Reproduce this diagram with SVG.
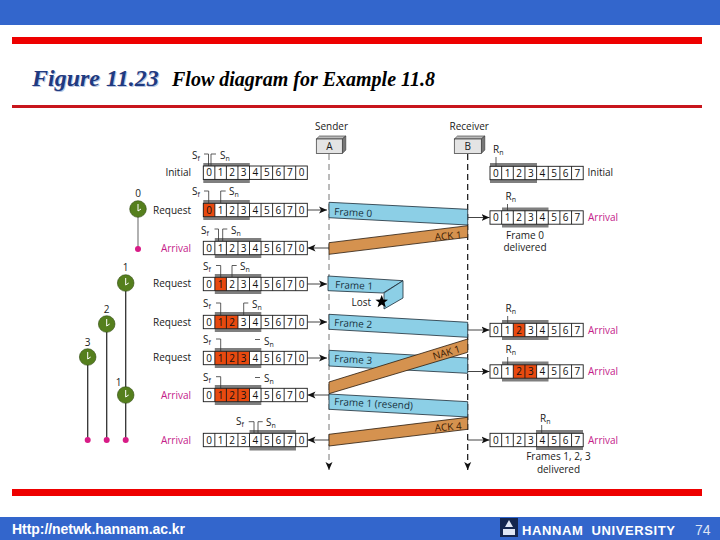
<svg xmlns="http://www.w3.org/2000/svg" xmlns:xlink="http://www.w3.org/1999/xlink" width="720" height="540" viewBox="0 0 720 540">
<style>
text{font-family:"Open Sans","Noto Sans",sans-serif;font-size:10px;fill:#1a1a1a}
.dg{text-anchor:middle;font-size:10px;fill:#111}
.lab{text-anchor:end}
.arr{fill:#c4208a}
.mid{text-anchor:middle}
.win{fill:#7f7f7f}
.bar{fill:#fff}
.hot{fill:#e8490f}
.grid{fill:none;stroke:#1a1a1a;stroke-width:.9}
.br{fill:none;stroke:#333;stroke-width:.8}
.fr{fill:#8ccfe6;stroke:#1c2b36;stroke-width:.8}
.ak{fill:#d5924f;stroke:#2a1a0c;stroke-width:.8}
.ft{font-size:10px;fill:#17323f}
.at{font-size:10px;fill:#3a1c05}
.conn{fill:none;stroke:#444;stroke-width:1}
.stem{stroke:#333;stroke-width:1.3;fill:none}
.dot{fill:#d81b86}
.clk{fill:#557f1d;stroke:#2f4a10;stroke-width:.6}
.hand{fill:none;stroke:#fff;stroke-width:1;}
.fig{font-family:"Liberation Serif",serif;font-weight:bold;font-style:italic;font-size:24px;fill:#1f3a80}
.sub{font-family:"Liberation Serif",serif;font-weight:bold;font-style:italic;font-size:20px;fill:#000}
.foot{font-family:"Liberation Sans",sans-serif;font-weight:bold;fill:#fff}
</style>
<defs>
<marker id="ah" markerWidth="10" markerHeight="8" refX="8" refY="4" orient="auto" markerUnits="userSpaceOnUse"><path d="M0,.5 L8,4 L0,7.5 L2,4 Z" fill="#111"/></marker>
<g id="sg" class="grid"><rect x="203.3" y="-6.7" width="104" height="13.4"/><path d="M214.85-6.7v13.4M226.4-6.7v13.4M237.95-6.7v13.4M249.5-6.7v13.4M261.05-6.7v13.4M272.6-6.7v13.4M284.15-6.7v13.4M295.7-6.7v13.4"/></g>
<g id="rg" class="grid"><rect x="490" y="-6.7" width="93.2" height="13.4"/><path d="M501.65-6.7v13.4M513.3-6.7v13.4M524.95-6.7v13.4M536.6-6.7v13.4M548.25-6.7v13.4M559.9-6.7v13.4M571.55-6.7v13.4"/></g>
</defs>
<rect width="720" height="540" fill="#fff"/>
<g id="header">
<rect width="720" height="25" fill="#3366cc"/>
<rect x="12" y="37" width="690" height="7" fill="#ee0000"/>
<rect x="12" y="105" width="690" height="3" fill="#c8161c"/>
<text x="33" y="87" class="fig" style="fill:#b9c6e2">Figure 11.23</text>
<text x="32" y="86" class="fig">Figure 11.23</text>
<text x="172" y="86" class="sub" textLength="263">Flow diagram for Example 11.8</text>
</g>

<g id="lifelines" fill="none">
<path d="M329 154V470" stroke="#777" stroke-width="1" stroke-dasharray="6 4" marker-end="url(#ah)"/>
<path d="M467.7 154V470" stroke="#111" stroke-width="1.2" stroke-dasharray="6 4" marker-end="url(#ah)"/>
</g>

<g id="connectors">
<path class="conn" d="M307.3 210H327" marker-end="url(#ah)"/>
<path class="conn" d="M329 248H307.5" marker-end="url(#ah)"/>
<path class="conn" d="M307.3 284H327" marker-end="url(#ah)"/>
<path class="conn" d="M307.3 322H327" marker-end="url(#ah)"/>
<path class="conn" d="M307.3 358H327" marker-end="url(#ah)"/>
<path class="conn" d="M329 395H307.5" marker-end="url(#ah)"/>
<path class="conn" d="M329 440H307.5" marker-end="url(#ah)"/>
<path class="conn" d="M467.7 217.5H489.5" marker-end="url(#ah)"/>
<path class="conn" d="M467.7 330H489.5" marker-end="url(#ah)"/>
<path class="conn" d="M467.7 371.5H489.5" marker-end="url(#ah)"/>
<path class="conn" d="M467.7 440H489.5" marker-end="url(#ah)"/>
</g>

<g id="frames">
<polygon class="fr" points="329,202.3 467.7,209.3 467.7,225 329,217.7"/>
<text class="ft" transform="translate(334,215) rotate(2.9)">Frame 0</text>
<polygon class="ak" points="467.7,225.7 467.7,237.3 329,254.3 329,242.7"/>
<text class="at" transform="translate(435,240.5) rotate(-5)">ACK 1</text>
<polygon class="fr" points="328,276 403,280.7 383,293 328,290.7"/>
<polygon class="fr" points="403,280.7 403,298 384,309 384,293"/>
<text class="ft" transform="translate(335,288) rotate(2.5)">Frame 1</text>
<text x="351.5" y="305.5">Lost</text>
<polygon points="381.7,295 383.4,299.6 388,299.7 384.4,302.6 385.8,307.2 381.7,304.6 377.6,307.2 379,302.6 375.4,299.7 380,299.6" fill="#000"/>
<polygon class="fr" points="329,314.3 467.7,322.3 467.7,337.3 329,329.3"/>
<text class="ft" transform="translate(334,326) rotate(3)">Frame 2</text>
<polygon class="fr" points="329,350.3 467.7,358 467.7,373.3 329,366"/>
<text class="ft" transform="translate(334,362) rotate(3)">Frame 3</text>
<polygon class="ak" points="467.7,339 467.7,352.3 329,393.7 329,382"/>
<text class="at" transform="translate(434,360) rotate(-17)">NAK 1</text>
<polygon class="fr" points="329,394 467.7,401.7 467.7,417 329,409.3"/>
<text class="ft" transform="translate(334,405) rotate(3)">Frame 1 (resend)</text>
<polygon class="ak" points="467.7,417.3 467.7,429.3 329,446 329,434.3"/>
<text class="at" transform="translate(435,431.5) rotate(-5)">ACK 4</text>
</g>

<g id="node-a">
<text x="315" y="130">Sender</text>
<polygon points="316.3,139 319.5,136 345.8,136 342.3,139" fill="#bbb" stroke="#333" stroke-width=".6"/>
<polygon points="342.3,139 345.8,136 345.8,150 342.3,153.5" fill="#777" stroke="#333" stroke-width=".6"/>
<rect x="316.3" y="139" width="26" height="14.5" fill="#e4e4e4" stroke="#333" stroke-width=".7"/>
<text class="mid" x="329.3" y="150">A</text>
</g>
<g id="node-b">
<text x="449.5" y="130">Receiver</text>
<polygon points="454.3,139 457.5,136 484.8,136 481.3,139" fill="#bbb" stroke="#333" stroke-width=".6"/>
<polygon points="481.3,139 484.8,136 484.8,150 481.3,153.5" fill="#777" stroke="#333" stroke-width=".6"/>
<rect x="454.3" y="139" width="27" height="14.5" fill="#e4e4e4" stroke="#333" stroke-width=".7"/>
<text class="mid" x="467.7" y="150">B</text>
</g>

<g id="clocks">
<path class="stem" d="M138 209V249" style="stroke:#888"/>
<path class="stem" d="M125.7 283V440M106.7 324V440M87.7 357V440"/>
<circle class="dot" cx="138" cy="249" r="3"/><circle class="dot" cx="125.7" cy="440" r="3"/><circle class="dot" cx="106.7" cy="440" r="3"/><circle class="dot" cx="87.7" cy="440" r="3"/>
<circle class="clk" cx="138" cy="209" r="8.3"/><path class="hand" d="M138 204V211L141 209"/>
<circle class="clk" cx="125.7" cy="283" r="8.3"/><path class="hand" d="M125.7 278V285L128.7 283"/>
<circle class="clk" cx="106.7" cy="324" r="8.3"/><path class="hand" d="M106.7 319V326L109.7 324"/>
<circle class="clk" cx="87.7" cy="357" r="8.3"/><path class="hand" d="M87.7 352V359L90.7 357"/>
<circle class="clk" cx="125.7" cy="395" r="8.3"/><path class="hand" d="M125.7 390V397L128.7 395"/>
<text class="mid" x="138" y="197">0</text>
<text class="mid" x="125.7" y="271">1</text>
<text class="mid" x="106.7" y="313">2</text>
<text class="mid" x="87.7" y="346">3</text>
<text class="mid" x="118.5" y="386">1</text>
</g>

<g id="sender-row-initial">
<rect class="win" x="203.3" y="163" width="46.5" height="20"/><rect class="bar" x="203.3" y="166" width="104" height="13.4"/>
<use xlink:href="#sg" href="#sg" y="172.7"/>
<text class="dg" x="209.1 220.6 232.2 243.7 255.3 266.8 278.4 289.9 301.5" y="176.3">012345670</text>
<text class="lab" x="191" y="176">Initial</text>
<path class="br" d="M204 154H208.5V166M216 154H211V166"/>
<text x="192" y="159">S<tspan font-size="7" dy="2">f</tspan></text><text x="220" y="159">S<tspan font-size="7" dy="2">n</tspan></text>
</g>
<g id="sender-row-request-0">
<rect class="win" x="203.3" y="200" width="46.5" height="20"/><rect class="bar" x="203.3" y="203.3" width="104" height="13.4"/>
<rect class="hot" x="203.3" y="203.3" width="11.55" height="13.4"/>
<use xlink:href="#sg" href="#sg" y="210"/>
<text class="dg" x="209.1 220.6 232.2 243.7 255.3 266.8 278.4 289.9 301.5" y="213.6">012345670</text>
<text class="lab" x="191" y="213.5">Request</text>
<path class="br" d="M204 191H208.7V203M225.7 191H220.7V203"/>
<text x="192" y="195">S<tspan font-size="7" dy="2">f</tspan></text><text x="229" y="195">S<tspan font-size="7" dy="2">n</tspan></text>
</g>
<g id="sender-row-arrival-0">
<rect class="win" x="214.8" y="238" width="46.5" height="20"/><rect class="bar" x="203.3" y="241.3" width="104" height="13.4"/>
<use xlink:href="#sg" href="#sg" y="248"/>
<text class="dg" x="209.1 220.6 232.2 243.7 255.3 266.8 278.4 289.9 301.5" y="251.6">012345670</text>
<text class="lab arr" x="191" y="251.5">Arrival</text>
<path class="br" d="M214.5 229H218.5V241M227.3 229H222.7V241"/>
<text x="201" y="234">S<tspan font-size="7" dy="2">f</tspan></text><text x="231" y="234">S<tspan font-size="7" dy="2">n</tspan></text>
</g>
<g id="sender-row-request-1">
<rect class="win" x="214.8" y="274" width="46.5" height="20"/><rect class="bar" x="203.3" y="277.3" width="104" height="13.4"/>
<rect class="hot" x="214.85" y="277.3" width="11.55" height="13.4"/>
<use xlink:href="#sg" href="#sg" y="284"/>
<text class="dg" x="209.1 220.6 232.2 243.7 255.3 266.8 278.4 289.9 301.5" y="287.6">012345670</text>
<text class="lab" x="191" y="287">Request</text>
<path class="br" d="M216 265.5H220.7V278M236.7 265.5H232V277"/>
<text x="203" y="270">S<tspan font-size="7" dy="2">f</tspan></text><text x="240" y="270">S<tspan font-size="7" dy="2">n</tspan></text>
</g>
<g id="sender-row-request-2">
<rect class="win" x="214.8" y="312" width="46.5" height="20"/><rect class="bar" x="203.3" y="315.3" width="104" height="13.4"/>
<rect class="hot" x="214.85" y="315.3" width="23.1" height="13.4"/>
<use xlink:href="#sg" href="#sg" y="322"/>
<text class="dg" x="209.1 220.6 232.2 243.7 255.3 266.8 278.4 289.9 301.5" y="325.6">012345670</text>
<text class="lab" x="191" y="325.5">Request</text>
<path class="br" d="M216 303H220.7V316M248.3 303H243.7V315"/>
<text x="203" y="307">S<tspan font-size="7" dy="2">f</tspan></text><text x="252" y="308">S<tspan font-size="7" dy="2">n</tspan></text>
</g>
<g id="sender-row-request-3">
<rect class="win" x="214.8" y="348" width="46.5" height="20"/><rect class="bar" x="203.3" y="351.3" width="104" height="13.4"/>
<rect class="hot" x="214.85" y="351.3" width="34.65" height="13.4"/>
<use xlink:href="#sg" href="#sg" y="358"/>
<text class="dg" x="209.1 220.6 232.2 243.7 255.3 266.8 278.4 289.9 301.5" y="361.6">012345670</text>
<text class="lab" x="191" y="360.5">Request</text>
<path class="br" d="M216 339H220.7V352M255 339.5H260"/>
<text x="203" y="343">S<tspan font-size="7" dy="2">f</tspan></text><text x="264" y="345">S<tspan font-size="7" dy="2">n</tspan></text>
</g>
<g id="sender-row-arrival-1">
<rect class="win" x="214.8" y="385" width="46.5" height="20"/><rect class="bar" x="203.3" y="388.3" width="104" height="13.4"/>
<rect class="hot" x="214.85" y="388.3" width="34.65" height="13.4"/>
<use xlink:href="#sg" href="#sg" y="395"/>
<text class="dg" x="209.1 220.6 232.2 243.7 255.3 266.8 278.4 289.9 301.5" y="398.6">012345670</text>
<text class="lab arr" x="191" y="398.5">Arrival</text>
<path class="br" d="M216 376.7H220.7V389M255 377.5H260"/>
<text x="203" y="381">S<tspan font-size="7" dy="2">f</tspan></text><text x="264" y="382">S<tspan font-size="7" dy="2">n</tspan></text>
</g>
<g id="sender-row-arrival-4">
<rect class="win" x="249.5" y="430" width="46.5" height="20.5"/><rect class="bar" x="203.3" y="433.3" width="104" height="13.4"/>
<use xlink:href="#sg" href="#sg" y="440"/>
<text class="dg" x="209.1 220.6 232.2 243.7 255.3 266.8 278.4 289.9 301.5" y="443.6">012345670</text>
<text class="lab arr" x="191" y="443.5">Arrival</text>
<path class="br" d="M248.7 421.7H254V433M262.7 421.7H258V433"/>
<text x="236" y="425">S<tspan font-size="7" dy="2">f</tspan></text><text x="266" y="426">S<tspan font-size="7" dy="2">n</tspan></text>
</g>

<g id="receiver-row-initial">
<rect class="win" x="490" y="163" width="47" height="20"/><rect class="bar" x="490" y="166.3" width="93.2" height="13.4"/>
<use xlink:href="#rg" href="#rg" y="173"/>
<text class="dg" x="495.8 507.5 519.1 530.8 542.4 554.1 565.7 577.4" y="176.6">01234567</text>
<text x="587.5" y="176">Initial</text>
<path class="br" d="M496 157V166"/>
<text x="493" y="153">R<tspan font-size="7" dy="2">n</tspan></text>
</g>
<g id="receiver-row-arrival-1">
<rect class="win" x="502" y="207.5" width="46.5" height="20"/><rect class="bar" x="490" y="210.8" width="93.2" height="13.4"/>
<use xlink:href="#rg" href="#rg" y="217.5"/>
<text class="dg" x="495.8 507.5 519.1 530.8 542.4 554.1 565.7 577.4" y="221.1">01234567</text>
<text class="arr" x="588" y="220.5">Arrival</text>
<text x="505.5" y="200">R<tspan font-size="7" dy="2">n</tspan></text>
<path class="br" d="M507.5 204V211"/>
<text class="mid" x="525" y="238.5">Frame 0</text>
<text class="mid" x="525" y="251">delivered</text>
</g>
<g id="receiver-row-arrival-2">
<rect class="win" x="502" y="320" width="46.5" height="20"/><rect class="bar" x="490" y="323.3" width="93.2" height="13.4"/>
<rect class="hot" x="513.3" y="323.3" width="11.65" height="13.4"/>
<use xlink:href="#rg" href="#rg" y="330"/>
<text class="dg" x="495.8 507.5 519.1 530.8 542.4 554.1 565.7 577.4" y="333.6">01234567</text>
<text class="arr" x="588" y="333.5">Arrival</text>
<text x="505.5" y="312">R<tspan font-size="7" dy="2">n</tspan></text>
<path class="br" d="M507.7 316V323"/>
</g>
<g id="receiver-row-arrival-3">
<rect class="win" x="502" y="361.5" width="46.5" height="20"/><rect class="bar" x="490" y="364.8" width="93.2" height="13.4"/>
<rect class="hot" x="513.3" y="364.8" width="23.3" height="13.4"/>
<use xlink:href="#rg" href="#rg" y="371.5"/>
<text class="dg" x="495.8 507.5 519.1 530.8 542.4 554.1 565.7 577.4" y="375.1">01234567</text>
<text class="arr" x="588" y="375">Arrival</text>
<text x="505.5" y="353">R<tspan font-size="7" dy="2">n</tspan></text>
<path class="br" d="M507.7 357V365"/>
</g>
<g id="receiver-row-arrival-4">
<rect class="win" x="536" y="430" width="47" height="20"/><rect class="bar" x="490" y="433.3" width="93.2" height="13.4"/>
<use xlink:href="#rg" href="#rg" y="440"/>
<text class="dg" x="495.8 507.5 519.1 530.8 542.4 554.1 565.7 577.4" y="443.6">01234567</text>
<text class="arr" x="588" y="443.5">Arrival</text>
<text x="540" y="422">R<tspan font-size="7" dy="2">n</tspan></text>
<path class="br" d="M541.7 425V433"/>
<text class="mid" x="558.5" y="460">Frames 1, 2, 3</text>
<text class="mid" x="558.5" y="472.5">delivered</text>
</g>

<g id="footer">
<rect x="12" y="489" width="690" height="7" fill="#ee0000"/>
<rect y="517" width="720" height="23" fill="#3366cc"/>
<text class="foot" x="12" y="533.5" style="font-size:14px" textLength="173">Http://netwk.hannam.ac.kr</text>
<rect x="500" y="518" width="18" height="19" fill="#14264f"/>
<path d="M509 520L513 527H505ZM503 529H515V535H503Z" fill="#dfe6f5"/>
<text class="foot" x="522" y="534.5" style="font-size:13px;word-spacing:4px" textLength="153">HANNAM UNIVERSITY</text>
<text x="695" y="535" style="font-family:'Liberation Sans',sans-serif;font-size:14px;fill:#dde4f4">74</text>
</g>
</svg>
